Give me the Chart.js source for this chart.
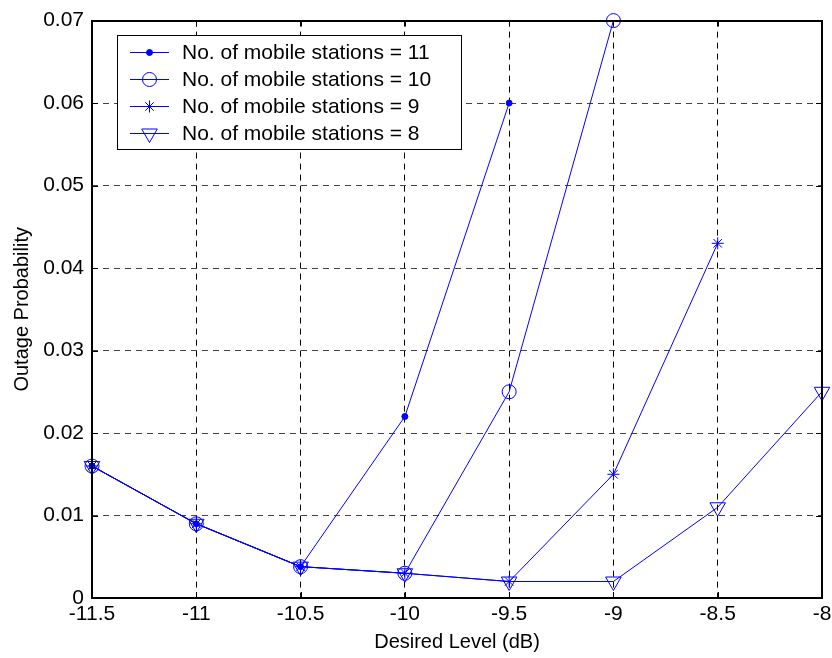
<!DOCTYPE html>
<html>
<head>
<meta charset="utf-8">
<script src="https://cdn.jsdelivr.net/npm/chart.js@4.4.1/dist/chart.umd.min.js"></script>
<style>
  body { margin: 0; background: #fff; }
  #wrap { width: 832px; height: 658px; }
</style>
</head>
<body>
<div id="wrap"><canvas id="outageChart" width="832" height="658"></canvas></div>
<script>
// desired level (dB) on the x axis
const xValues = [-11.5, -11, -10.5, -10, -9.5, -9, -8.5, -8];

// outage probability, one list per number of mobile stations
const ms11 = [0.016, 0.009, 0.0038, 0.022, 0.060];
const ms10 = [0.016, 0.009, 0.0038, 0.003, 0.025, 0.070];
const ms9 = [0.016, 0.009, 0.0038, 0.003, 0.002, 0.015, 0.043];
const ms8 = [0.016, 0.009, 0.0038, 0.003, 0.002, 0.002, 0.011, 0.025];

const seriesLabels = [
  'No. of mobile stations = 11',
  'No. of mobile stations = 10',
  'No. of mobile stations = 9',
  'No. of mobile stations = 8'
];

const xTicks = [-11.5, -11, -10.5, -10, -9.5, -9, -8.5, -8];
const yTicks = [0, 0.01, 0.02, 0.03, 0.04, 0.05, 0.06, 0.07];

const blue = '#0000ff';
const family = 'Arial, "Liberation Sans", sans-serif';
const tickFont = { family: family, size: 21 };
const titleFont = { family: family, size: 20 };

function toPoints(values) {
  return values.map((v, i) => ({ x: xValues[i], y: v }));
}

// marker looks for each series
const markers = [
  { pointStyle: 'circle', radius: 3, fill: blue, rotation: 0 },
  { pointStyle: 'circle', radius: 7, fill: 'rgba(0,0,0,0)', rotation: 0 },
  { pointStyle: 'star', radius: 6, fill: 'rgba(0,0,0,0)', rotation: 0 },
  { pointStyle: 'triangle', radius: 9, fill: 'rgba(0,0,0,0)', rotation: 180 }
];

const allSeries = [ms11, ms10, ms9, ms8];

const datasets = allSeries.map((vals, i) => ({
  label: seriesLabels[i],
  data: toPoints(vals),
  borderColor: blue,
  borderWidth: 1,
  pointStyle: markers[i].pointStyle,
  pointRadius: markers[i].radius,
  pointRotation: markers[i].rotation,
  pointBackgroundColor: markers[i].fill,
  pointBorderColor: blue,
  pointBorderWidth: 1,
  fill: false,
  tension: 0,
  clip: false
}));

// box around the plot, inward ticks and the legend
const frameAndLegend = {
  id: 'frameAndLegend',
  afterDraw(chart) {
    const ctx = chart.ctx;
    const a = chart.chartArea;
    const xs = chart.scales.x;
    const ys = chart.scales.y;
    ctx.save();
    ctx.strokeStyle = '#000';
    ctx.lineWidth = 1;
    ctx.setLineDash([]);
    ctx.beginPath();
    xTicks.forEach(v => {
      const px = Math.round(xs.getPixelForValue(v)) + 0.5;
      ctx.moveTo(px, a.bottom); ctx.lineTo(px, a.bottom - 6);
      ctx.moveTo(px, a.top); ctx.lineTo(px, a.top + 6);
    });
    yTicks.forEach(v => {
      const py = Math.round(ys.getPixelForValue(v)) + 0.5;
      ctx.moveTo(a.left, py); ctx.lineTo(a.left + 6, py);
      ctx.moveTo(a.right, py); ctx.lineTo(a.right - 6, py);
    });
    ctx.stroke();
    ctx.lineWidth = 2;
    ctx.strokeRect(Math.round(a.left), Math.round(a.top), Math.round(a.right - a.left), Math.round(a.bottom - a.top));

    // legend
    const bx = 117, by = 35, bw = 344, bh = 114;
    ctx.fillStyle = '#fff';
    ctx.fillRect(bx, by, bw, bh);
    ctx.lineWidth = 1;
    ctx.strokeRect(bx + 0.5, by + 0.5, bw, bh);
    ctx.font = tickFont.size + 'px ' + family;
    ctx.textBaseline = 'middle';
    ctx.textAlign = 'left';
    seriesLabels.forEach((label, i) => {
      const ry = by + 17 + i * 27;
      ctx.strokeStyle = blue;
      ctx.lineWidth = 1;
      ctx.beginPath();
      ctx.moveTo(130, ry + 0.5);
      ctx.lineTo(169, ry + 0.5);
      ctx.stroke();
      ctx.fillStyle = markers[i].fill;
      Chart.helpers.drawPoint(ctx, {
        pointStyle: markers[i].pointStyle,
        radius: markers[i].radius,
        rotation: markers[i].rotation,
        borderWidth: 1
      }, 149.5, ry + 0.5);
      ctx.fillStyle = '#000';
      ctx.fillText(label, 182, ry + 1);
    });
    ctx.restore();
  }
};

const ctx = document.getElementById('outageChart').getContext('2d');
const outageChart = new Chart(ctx, {
  type: 'line',
  data: { datasets: datasets },
  options: {
    responsive: false,
    animation: false,
    layout: { padding: { top: 19, right: 0, left: 0, bottom: 0 } },
    plugins: {
      legend: { display: false },
      tooltip: { enabled: false }
    },
    scales: {
      x: {
        type: 'linear',
        min: -11.5,
        max: -8,
        afterBuildTicks: s => { s.ticks = xTicks.map(v => ({ value: v })); },
        afterFit: s => { s.height = 60; s.paddingRight = 10; s.paddingLeft = 0; },
        ticks: { font: tickFont, color: '#000', padding: 4, maxRotation: 0, autoSkip: false, callback: v => String(v) },
        grid: { color: '#000', lineWidth: 1, drawTicks: false },
        border: { display: false, dash: [6, 5] },
        title: { display: true, text: 'Desired Level (dB)', font: titleFont, color: '#000', padding: { top: 2, bottom: 4 } }
      },
      y: {
        type: 'linear',
        min: 0,
        max: 0.07,
        afterBuildTicks: s => { s.ticks = yTicks.map(v => ({ value: v })); },
        afterFit: s => { s.width = 92; },
        ticks: { font: tickFont, color: '#000', padding: 8, autoSkip: false, callback: v => String(v) },
        grid: { color: '#444', lineWidth: 1, drawTicks: false },
        border: { display: false, dash: [6, 5] },
        title: { display: true, text: 'Outage Probability', font: titleFont, color: '#000', padding: { top: 10, bottom: 4 } }
      }
    }
  },
  plugins: [frameAndLegend]
});
</script>
</body>
</html>
